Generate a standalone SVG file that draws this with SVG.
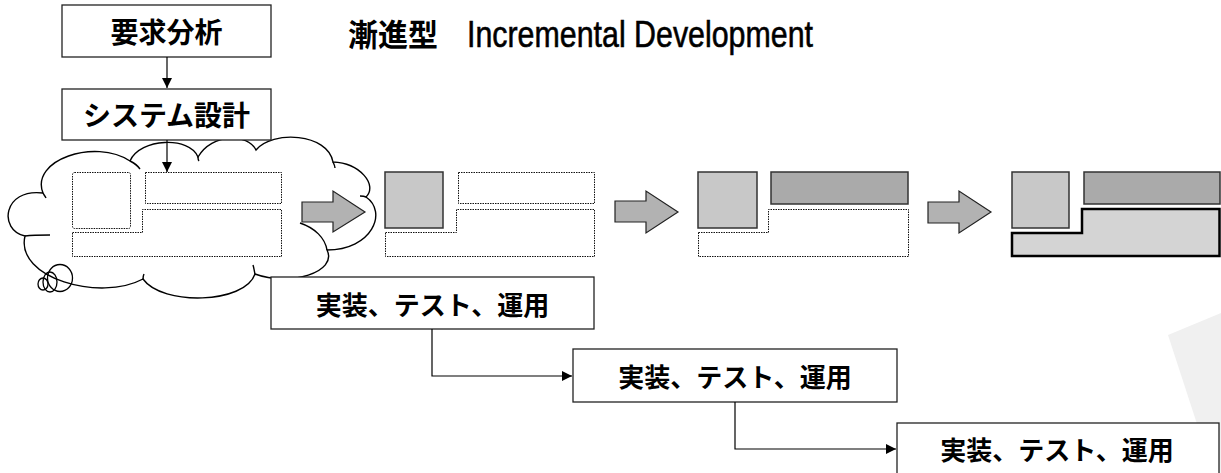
<svg xmlns="http://www.w3.org/2000/svg" width="1221" height="473" viewBox="0 0 1221 473">
<style>
.box{fill:#fff;stroke:#222;stroke-width:1.3}
.lbl{font-family:"Noto Sans CJK JP","Noto Sans CJK SC",sans-serif;font-weight:bold;fill:#000;text-anchor:middle}
.dot{fill:none;stroke:#111;stroke-width:1;stroke-dasharray:1.5 1}
.sq{fill:#c8c8c8;stroke:#333;stroke-width:1.5}
.dk{fill:#aaaaaa;stroke:#333;stroke-width:1.5}
.blk{fill:#b2b2b2;stroke:#222;stroke-width:1.2}
.ln{fill:none;stroke:#000;stroke-width:1.2}
.cl{fill:none;stroke:#000;stroke-width:1.4}
</style>
<defs>
<marker id="ah" viewBox="0 0 10 10" refX="10" refY="5" markerWidth="10" markerHeight="10" markerUnits="userSpaceOnUse" orient="auto">
<path d="M0,0 L10,5 L0,10 Z" fill="#000"/>
</marker>
</defs>
<rect width="1221" height="473" fill="#fff"/>
<polygon points="1168,335 1221,313 1221,473 1213,473" fill="#f0f0f0"/>

<g id="title">
<text x="348" y="46" font-family="'Noto Sans CJK JP',sans-serif" font-weight="bold" font-size="31" textLength="90" lengthAdjust="spacingAndGlyphs">漸進型</text>
<text x="467" y="47" font-family="'Liberation Sans',Arial,sans-serif" font-size="37" stroke="#000" stroke-width="0.6" textLength="346" lengthAdjust="spacingAndGlyphs">Incremental Development</text>
</g>

<g id="cloud">
<path d="M43,193 C30,160 95,138 130,161 C140,138 190,136 198,157 C212,133 248,133 256,150 C272,130 328,133 333,162 C360,163 378,185 366,197 C388,212 372,250 327,250 C338,272 290,287 255,274 C245,304 162,306 143,279 C100,302 15,278 25,236 C-2,230 3,188 43,193 Z" fill="#fff" stroke="#000" stroke-width="1.4"/>
<path class="cl" d="M43,193 C44,195 45,196 46,198"/>
<path class="cl" d="M130,161 C134,163 138,166 140,169"/>
<path class="cl" d="M198,157 C198,159 198,160 199,161"/>
<path class="cl" d="M333,162 C334,164 335,166 335,168"/>
<path class="cl" d="M366,197 C364,196 362,196 360,196"/>
<path class="cl" d="M300,223 C315,228 325,238 327,250"/>
<path class="cl" d="M255,274 C254,270 254,268 253,265"/>
<path class="cl" d="M143,279 C143,277 143,276 144,274"/>
<path class="cl" d="M25,236 C33,235 42,235 50,235"/>
<ellipse cx="60" cy="278" rx="12.5" ry="13.5" fill="none" stroke="#000" stroke-width="1.3"/>
<ellipse cx="50" cy="282" rx="7" ry="10" fill="none" stroke="#000" stroke-width="1.3"/>
<ellipse cx="43" cy="284" rx="5" ry="6" fill="none" stroke="#000" stroke-width="1.3"/>
<rect class="dot" x="72.5" y="172.5" width="58" height="56" rx="2"/>
<rect class="dot" x="145.5" y="172.5" width="136" height="31"/>
<path class="dot" d="M72.5,232.5 H142.5 V209.5 H281.5 V256.5 H72.5 Z"/>
</g>

<g id="stage1">
<rect class="sq" x="385" y="172" width="58" height="56"/>
<rect class="dot" x="458.5" y="172.5" width="136" height="31"/>
<path class="dot" d="M385.5,232.5 H456.5 V209.5 H594.5 V256.5 H385.5 Z"/>
</g>

<g id="stage2">
<rect class="sq" x="698" y="172" width="59" height="56"/>
<rect class="dk" x="771" y="172" width="137" height="32"/>
<path class="dot" d="M698.5,232.5 H768.5 V209.5 H908.5 V256.5 H698.5 Z"/>
</g>

<g id="stage3">
<rect class="sq" x="1012" y="172" width="57" height="56"/>
<rect class="dk" x="1084" y="172" width="136" height="32"/>
<path d="M1012,233 H1082 V209 H1219.5 V256 H1012 Z" fill="#d4d4d4" stroke="#000" stroke-width="2.5"/>
</g>

<g id="arrows">
<path class="blk" d="M302,202 H333 V191 L365,212 L333,232 V222 H302 Z"/>
<path class="blk" d="M615,201 H646 V191 L678,212 L646,233 V222 H615 Z"/>
<path class="blk" d="M928,202 H959 V191 L991,212 L959,233 V223 H928 Z"/>
</g>

<g id="req">
<rect class="box" x="62" y="5" width="209" height="52"/>
<text class="lbl" x="166.5" y="43" font-size="28">要求分析</text>
</g>
<g id="sysdesign">
<rect class="box" x="62" y="89" width="209" height="51"/>
<text class="lbl" x="166.5" y="126" font-size="28">システム設計</text>
</g>
<g id="impl1">
<rect class="box" x="271" y="277" width="323" height="52"/>
<text class="lbl" x="432.5" y="315" font-size="26">実装、テスト、運用</text>
</g>
<g id="impl2">
<rect class="box" x="573" y="349" width="324" height="53"/>
<text class="lbl" x="735" y="387" font-size="26">実装、テスト、運用</text>
</g>
<g id="impl3">
<rect class="box" x="897" y="423" width="322" height="60"/>
<text class="lbl" x="1057" y="460" font-size="26">実装、テスト、運用</text>
</g>

<g id="connectors">
<line class="ln" x1="167" y1="57" x2="167" y2="88" marker-end="url(#ah)"/>
<line class="ln" x1="167" y1="140" x2="167" y2="172" marker-end="url(#ah)"/>
<polyline class="ln" points="432,329 432,376 572,376" marker-end="url(#ah)"/>
<polyline class="ln" points="735,402 735,449 896,449" marker-end="url(#ah)"/>
</g>
</svg>
